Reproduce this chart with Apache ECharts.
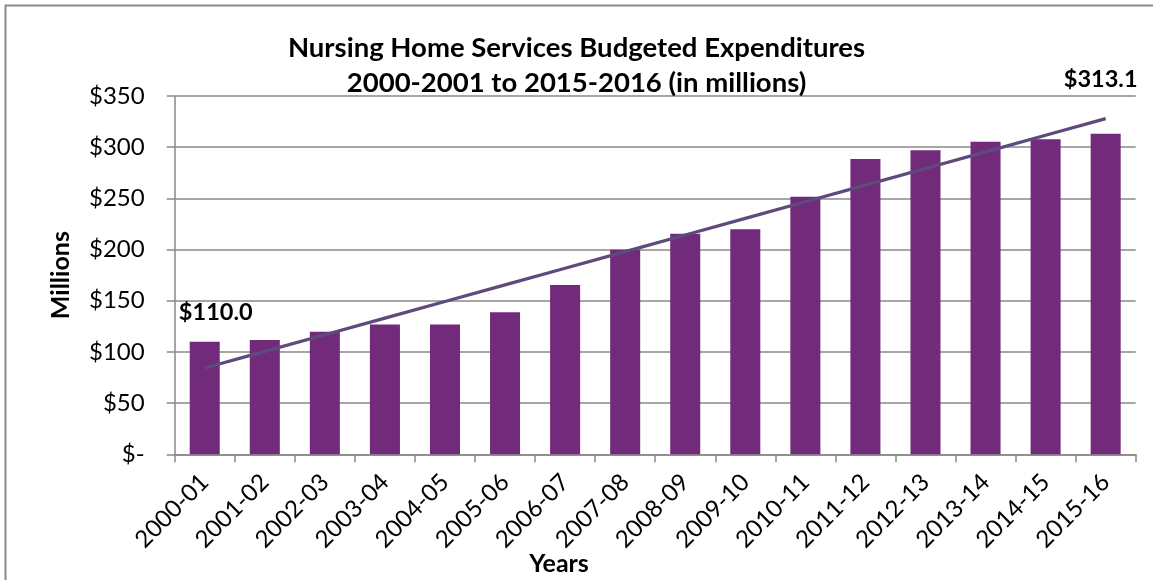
<!DOCTYPE html>
<html>
<head>
<meta charset="utf-8">
<script src="https://cdn.jsdelivr.net/npm/echarts@6/dist/echarts.min.js"></script>
<style>
html,body{margin:0;padding:0;background:#fff;}
#chart{width:1153px;height:580px;}
</style>
</head>
<body>
<div id="chart"></div>
<script>
// ---- data ----
var categories = ['2000-01','2001-02','2002-03','2003-04','2004-05','2005-06','2006-07','2007-08',
                  '2008-09','2009-10','2010-11','2011-12','2012-13','2013-14','2014-15','2015-16'];
var expenditures = [110.0, 111.6, 119.8, 126.9, 126.9, 138.8, 165.5, 199.7,
                    215.4, 219.9, 251.6, 288.5, 297.0, 305.4, 307.7, 313.1];
var yTicks = [0, 50, 100, 150, 200, 250, 300, 350];
var titleLines = ['Nursing Home Services Budgeted Expenditures', '2000-2001 to 2015-2016 (in millions)'];
var xAxisTitle = 'Years';
var yAxisTitle = 'Millions';

// linear trendline (least squares) from the bar values
function trend(vals) {
  var n = vals.length, sx = 0, sy = 0, sxx = 0, sxy = 0;
  for (var i = 0; i < n; i++) { sx += i; sy += vals[i]; sxx += i * i; sxy += i * vals[i]; }
  var b = (n * sxy - sx * sy) / (n * sxx - sx * sx);
  var a = (sy - b * sx) / n;
  return vals.map(function (_, i) { return +(a + b * i).toFixed(2); });
}
var trendValues = trend(expenditures);

var FONT = 'Lato';
var gray = '#898989';

var barData = expenditures.map(function (v, i) {
  var item = { value: v };
  if (i === 0) {
    item.label = { show: true, offset: [11, -17] };
  } else if (i === expenditures.length - 1) {
    item.label = { show: true, offset: [-5, -42] };
  }
  return item;
});

var chart = echarts.init(document.getElementById('chart'), null, { renderer: 'canvas' });
chart.setOption({
  animation: false,
  backgroundColor: '#ffffff',
  title: {
    text: titleLines.join('\n'),
    left: 'center',
    top: 26,
    textStyle: { fontFamily: FONT, fontWeight: 'bold', fontSize: 27.5, lineHeight: 35, color: '#000' }
  },
  graphic: [{
    type: 'rect',
    shape: { x: 5.5, y: 5.5, width: 1170, height: 620 },
    style: { fill: 'none', stroke: gray, lineWidth: 2 },
    silent: true
  }, {
    type: 'text',
    x: 559, y: 564,
    style: {
      text: xAxisTitle, fontFamily: FONT, fontWeight: 'bold', fontSize: 25, fill: '#000',
      align: 'center', verticalAlign: 'middle'
    },
    silent: true
  }],
  grid: { left: 174.7, right: 17.3, top: 96, bottom: 125.7, containLabel: false, outerBoundsMode: 'none' },
  xAxis: {
    type: 'category',
    data: categories,
    axisLine: { lineStyle: { color: gray, width: 1.5 } },
    axisTick: { show: true, length: 8, alignWithLabel: false, lineStyle: { color: gray, width: 1.5 } },
    axisLabel: {
      rotate: 45, interval: 0, margin: 24,
      fontFamily: FONT, fontSize: 24, color: '#000'
    }
  },
  yAxis: {
    type: 'value',
    min: yTicks[0],
    max: yTicks[yTicks.length - 1],
    interval: yTicks[1] - yTicks[0],
    name: yAxisTitle,
    nameLocation: 'middle',
    nameRotate: 90,
    nameGap: 114,
    nameMoveOverlap: false,
    nameTextStyle: { fontFamily: FONT, fontWeight: 'bold', fontSize: 25, color: '#000', verticalAlign: 'middle' },
    axisLine: { show: true, lineStyle: { color: gray, width: 1.5 } },
    axisTick: { show: true, length: 8, lineStyle: { color: gray, width: 1.5 } },
    axisLabel: {
      margin: 30, fontFamily: FONT, fontSize: 24, color: '#000',
      formatter: function (v) { return v === 0 ? '$-' : '$' + v; }
    },
    splitLine: { show: true, lineStyle: { color: gray, width: 1.5 } }
  },
  series: [{
    type: 'bar',
    data: barData,
    barWidth: '50%',
    itemStyle: { color: '#722A7A' },
    label: {
      show: false,
      position: 'top',
      distance: 0,
      fontFamily: FONT, fontWeight: 'bold', fontSize: 23.5, lineHeight: 24, color: '#000',
      formatter: function (p) { return '$' + p.value.toFixed(1); }
    },
    z: 2
  }, {
    type: 'line',
    data: trendValues,
    symbol: 'none',
    lineStyle: { color: '#5E4A7C', width: 3.3 },
    z: 3
  }]
});
</script>
</body>
</html>
